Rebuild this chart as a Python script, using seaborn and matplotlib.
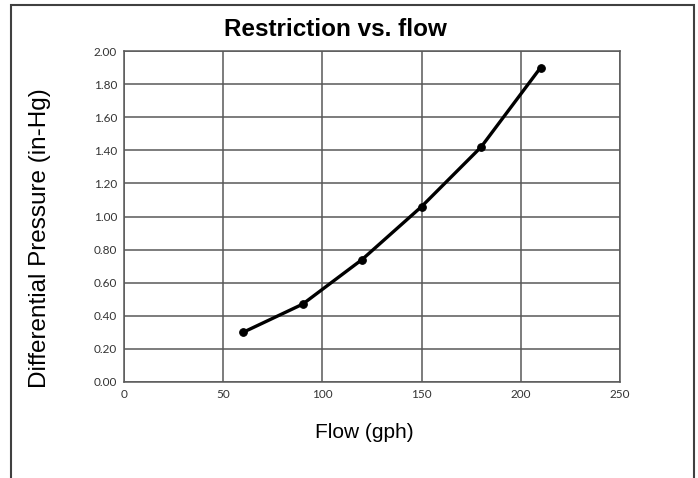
import numpy as np
import pandas as pd
import matplotlib
matplotlib.use("Agg")
import matplotlib.pyplot as plt
import seaborn as sns
from matplotlib.patches import Rectangle

# Data
flow_gph = [60, 90, 120, 150, 180, 210]
pressure_inhg = [0.30, 0.47, 0.74, 1.06, 1.42, 1.90]
x_ticks = [0, 50, 100, 150, 200, 250]
y_ticks = [0.0, 0.2, 0.4, 0.6, 0.8, 1.0, 1.2, 1.4, 1.6, 1.8, 2.0]

df = pd.DataFrame({"Flow (gph)": flow_gph, "Pressure": pressure_inhg})

sns.set_style("white")
plt.rcParams['font.family'] = ['Liberation Sans', 'DejaVu Sans']

fig = plt.figure(figsize=(6.98, 4.78), dpi=100)
ax = fig.add_axes([124 / 698, 1 - 382 / 478, 496 / 698, 331 / 478])

sns.lineplot(data=df, x="Flow (gph)", y="Pressure", ax=ax, color="black",
             linewidth=2.4, marker="o", markersize=5.5, markeredgecolor="black")

ax.set_xlim(0, 250)
ax.set_ylim(0, 2.0)
ax.set_xticks(x_ticks)
ax.set_yticks(y_ticks)
ax.set_xticklabels([str(t) for t in x_ticks], family="Lato", fontsize=8.5)
ax.set_yticklabels([f"{t:.2f}" for t in y_ticks], family="Lato", fontsize=8.5)
ax.tick_params(length=0, pad=5, colors="#333333")

ax.grid(True, color="#595959", linewidth=1.1)
for s in ax.spines.values():
    s.set_color("#595959")
    s.set_linewidth(1.1)

ax.set_xlabel("")
ax.set_ylabel("")
fig.text(40 / 698, 1 - 238 / 478, "Differential Pressure (in-Hg)", rotation=90,
         ha="center", va="center", fontsize=17.5, color="black")
fig.text(364 / 698, 1 - 432 / 478, "Flow (gph)", ha="center", va="center",
         fontsize=15, color="black")
fig.text(335 / 698, 1 - 29 / 478, "Restriction vs. flow", ha="center", va="center",
         fontsize=17.5, fontweight="bold", color="black")

# chart border (bottom edge runs off the image)
fig.patches.append(Rectangle((11 / 698, -0.05), (694 - 11) / 698, 1.05 - 5 / 478,
                             transform=fig.transFigure, fill=False,
                             edgecolor="#404040", linewidth=1.5))

fig.savefig("out.png", dpi=100)
